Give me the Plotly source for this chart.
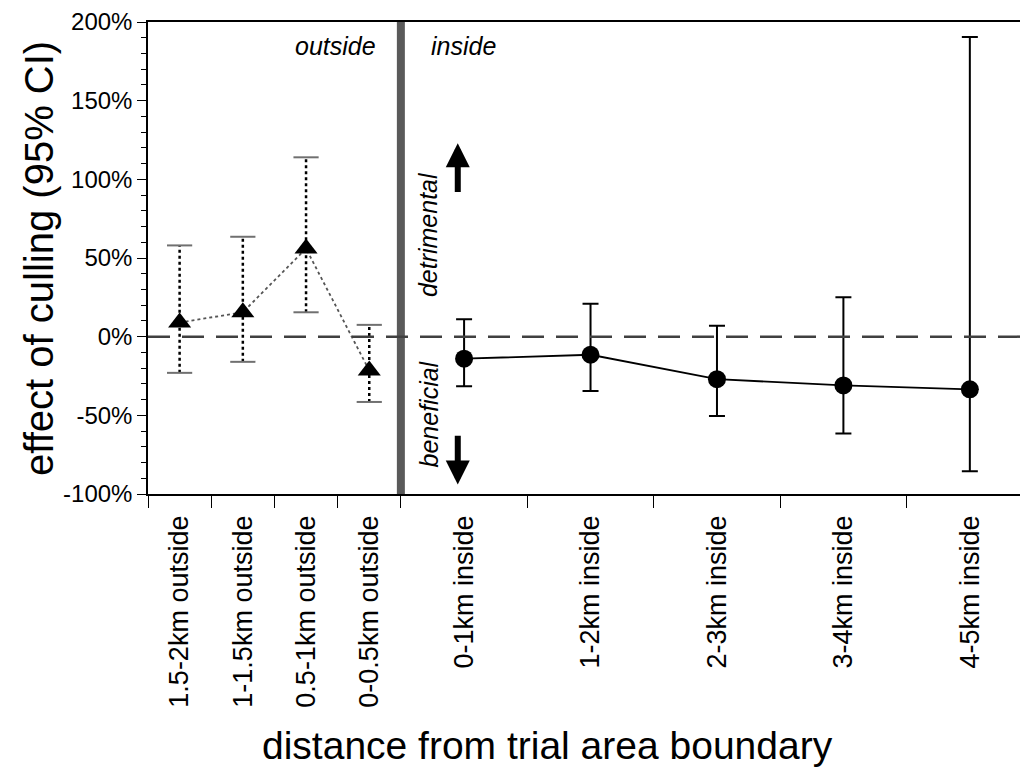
import plotly.graph_objects as go

# ---- data ----
outside_labels = ["1.5-2km outside", "1-1.5km outside", "0.5-1km outside", "0-0.5km outside"]
outside_x = [-1.75, -1.25, -0.75, -0.25]
outside_est = [9, 15.5, 56, -21.5]
outside_lo = [-23, -16, 15.5, -41.5]
outside_hi = [58, 63.5, 114, 7.5]

inside_labels = ["0-1km inside", "1-2km inside", "2-3km inside", "3-4km inside", "4-5km inside"]
inside_x = [0.5, 1.5, 2.5, 3.5, 4.5]
inside_est = [-14, -11.5, -27, -31, -33.5]
inside_lo = [-31.5, -34.5, -50.5, -61.5, -85.5]
inside_hi = [11, 21, 7, 25, 190.5]

boundary_ticks = [-2, -1.5, -1, -0.5, 0, 1, 2, 3, 4]
y_ticks = [-100, -50, 0, 50, 100, 150, 200]
y_ticktext = ["-100%", "-50%", "0%", "50%", "100%", "150%", "200%"]

FONT = "Liberation Sans, Arial, Helvetica, sans-serif"

fig = go.Figure()

# outside: dotted error bars
ex, ey = [], []
for x, lo, hi in zip(outside_x, outside_lo, outside_hi):
    ex += [x, x, None]
    ey += [lo, hi, None]
fig.add_trace(go.Scatter(x=ex, y=ey, mode="lines",
                         line=dict(color="black", width=2.5, dash="dot"),
                         hoverinfo="skip", showlegend=False))
fig.add_trace(go.Scatter(x=outside_x + outside_x, y=outside_lo + outside_hi, mode="markers",
                         marker=dict(symbol="line-ew", size=18,
                                     line=dict(color="#707070", width=2)),
                         hoverinfo="skip", showlegend=False))
fig.add_trace(go.Scatter(x=outside_x, y=outside_est, mode="lines+markers",
                         line=dict(color="#555555", width=1.8, dash="dot"),
                         marker=dict(symbol="triangle-up", size=20, color="black"),
                         showlegend=False))

# inside: solid line with error bars
fig.add_trace(go.Scatter(
    x=inside_x, y=inside_est, mode="lines+markers",
    line=dict(color="black", width=1.8),
    marker=dict(symbol="circle", size=18, color="black"),
    error_y=dict(type="data", symmetric=False,
                 array=[h - e for h, e in zip(inside_hi, inside_est)],
                 arrayminus=[e - l for e, l in zip(inside_est, inside_lo)],
                 color="black", thickness=2, width=8),
    showlegend=False))

# boundary bar and zero line
fig.add_vline(x=0, line_width=8, line_color="#5a5a5a")
fig.add_hline(y=0, line_width=2.5, line_color="#404040", line_dash="22px,12px")

# text annotations
ann_font = dict(family=FONT, size=25, color="black")
fig.add_annotation(x=-0.18, y=185, text="<i>outside</i>", showarrow=False,
                   xanchor="right", yanchor="middle", font=ann_font)
fig.add_annotation(x=0.22, y=185, text="<i>inside</i>", showarrow=False,
                   xanchor="left", yanchor="middle", font=ann_font)
fig.add_annotation(x=0.22, y=65, text="<i>detrimental</i>", showarrow=False,
                   textangle=-90, xanchor="center", yanchor="middle", font=ann_font)
fig.add_annotation(x=0.22, y=-49, text="<i>beneficial</i>", showarrow=False,
                   textangle=-90, xanchor="center", yanchor="middle", font=ann_font)
# arrows
fig.add_annotation(x=0.45, y=123, ax=0.45, ay=91, axref="x", ayref="y",
                   xref="x", yref="y", text="", showarrow=True,
                   arrowhead=2, arrowsize=0.8, arrowwidth=6, arrowcolor="black")
fig.add_annotation(x=0.45, y=-94, ax=0.45, ay=-62, axref="x", ayref="y",
                   xref="x", yref="y", text="", showarrow=True,
                   arrowhead=2, arrowsize=0.8, arrowwidth=6, arrowcolor="black")

# axis titles
fig.add_annotation(xref="paper", yref="paper", x=-0.124, y=0.5,
                   text="effect of culling (95% CI)", textangle=-90, showarrow=False,
                   xanchor="center", yanchor="middle",
                   font=dict(family=FONT, size=40, color="black"))
fig.add_annotation(xref="paper", yref="paper", x=0.4545, y=-0.532,
                   text="distance from trial area boundary", showarrow=False,
                   xanchor="center", yanchor="middle",
                   font=dict(family=FONT, size=39, color="black"))

# page body has an 8px default margin, so the figure is shrunk and the margins offset
fig.update_layout(
    width=1020, height=762,
    margin=dict(l=140, r=0, t=14, b=276),
    plot_bgcolor="white", paper_bgcolor="white",
    font=dict(family=FONT, color="black"),
    xaxis=dict(
        range=[-2, 4.96], showgrid=False, zeroline=False,
        showline=True, linecolor="black", linewidth=1.5, mirror=True,
        tickmode="array", tickvals=outside_x + inside_x,
        ticktext=outside_labels + inside_labels,
        tickangle=-90, ticks="outside", ticklen=9, tickcolor="rgba(0,0,0,0)",
        tickfont=dict(family=FONT, size=27, color="black"),
        minor=dict(tickmode="array", tickvals=boundary_ticks, ticks="outside",
                   ticklen=12, tickwidth=1.2, tickcolor="black", showgrid=False),
    ),
    yaxis=dict(
        range=[-100, 200], showgrid=False, zeroline=False,
        showline=True, linecolor="black", linewidth=1.5, mirror=False,
        tickmode="array", tickvals=y_ticks, ticktext=y_ticktext,
        ticks="outside", ticklen=9, tickwidth=1.2, tickcolor="black",
        tickfont=dict(family=FONT, size=24, color="black"),
        minor=dict(dtick=10, ticks="outside", ticklen=5, tickwidth=1, tickcolor="black",
                   showgrid=False),
    ),
)

fig.write_html("out.html")
